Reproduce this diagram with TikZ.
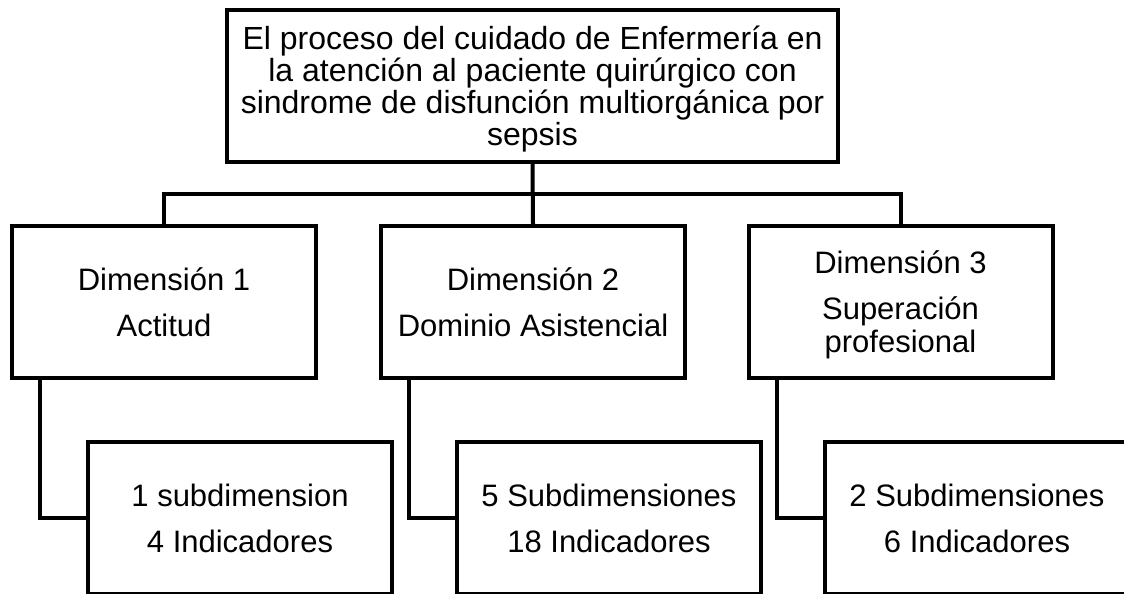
\documentclass[tikz,border=0pt]{standalone}
\usepackage{fontspec}
\setmainfont{Liberation Sans}

\begin{document}
\begin{tikzpicture}[x=1pt, y=-1pt,
        box/.style={rectangle, draw=black, line width=4pt, fill=white, minimum width=304pt, minimum height=152pt, align=center, inner sep=0pt, text depth=0pt, font=\fontsize{31}{33}\selectfont},
        title/.style={box, minimum width=611pt, minimum height=151pt, font=\fontsize{32}{32}\selectfont},
        link/.style={draw=black, line width=4pt}
    ]
        \useasboundingbox (0,0) rectangle (1124,594);

        \node[title] (root) at (532.5,86) {El proceso del cuidado de Enfermería en\\la atención al paciente quirúrgico con\\sindrome de disfunción multiorgánica por\\sepsis};
        \coordinate (bus) at (0,194);

        \node[box] (dim1) at (164,302) {Dimensión 1\\[13pt]Actitud};
        \node[box] (dim2) at (533,302) {Dimensión 2\\[13pt]Dominio Asistencial};
        \node[box] (dim3) at (900.5,302) {Dimensión 3\\[13pt]Superación\\profesional};

        \node[box] (sub1) at (240,518) {1 subdimension\\[13pt]4 Indicadores};
        \node[box] (sub2) at (609,518) {5 Subdimensiones\\[13pt]18 Indicadores};
        \node[box] (sub3) at (977,518) {2 Subdimensiones\\[13pt]6 Indicadores};

        \draw[link] (root.south) -- (dim2.north);
        \draw[link] (dim1.north) -- (dim1.north |- bus) -- (dim3.north |- bus) -- (dim3.north);
        \foreach \d/\s in {dim1/sub1,dim2/sub2,dim3/sub3} {
            \draw[link] ([xshift=30pt]\d.south west) |- (\s.west);
        }
    \end{tikzpicture}
\end{document}
